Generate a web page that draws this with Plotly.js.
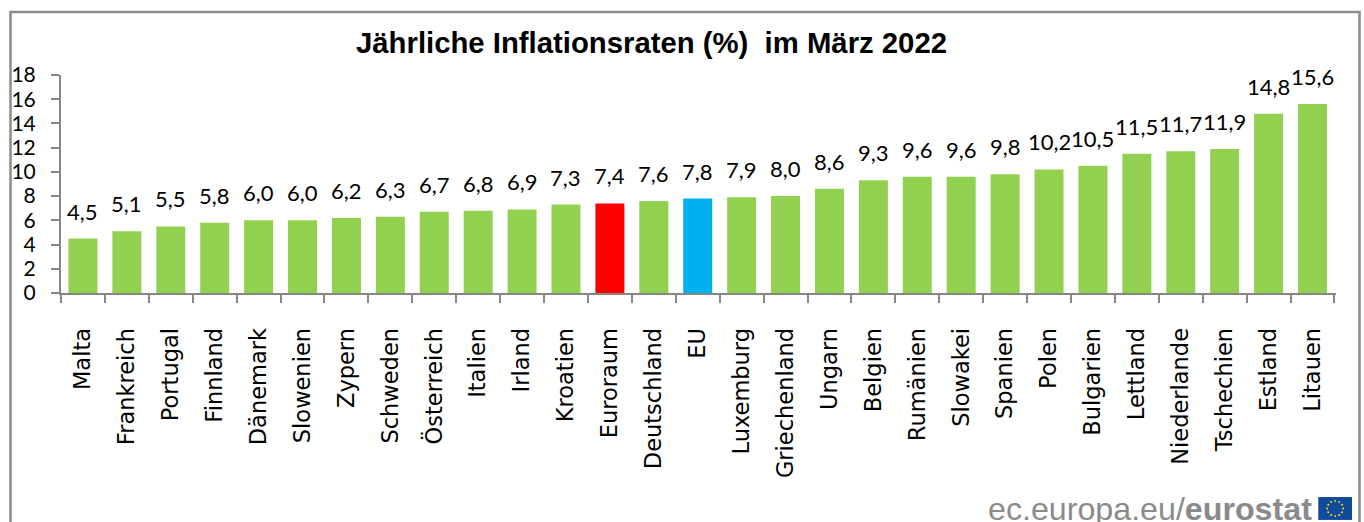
<!DOCTYPE html>
<html><head><meta charset="utf-8">
<script src="https://cdn.plot.ly/plotly-3.0.1.min.js"></script>
<style>html,body{margin:0;padding:0;background:#fff;overflow:hidden}</style>
</head><body><div id="chart" style="width:1364px;height:522px"></div>
<script>
const categories = ["Malta","Frankreich","Portugal","Finnland","Dänemark","Slowenien","Zypern","Schweden","Österreich","Italien","Irland","Kroatien","Euroraum","Deutschland","EU","Luxemburg","Griechenland","Ungarn","Belgien","Rumänien","Slowakei","Spanien","Polen","Bulgarien","Lettland","Niederlande","Tschechien","Estland","Litauen"];
const values = [4.5,5.1,5.5,5.8,6.0,6.0,6.2,6.3,6.7,6.8,6.9,7.3,7.4,7.6,7.8,7.9,8.0,8.6,9.3,9.6,9.6,9.8,10.2,10.5,11.5,11.7,11.9,14.8,15.6];
const yTicks = [0,2,4,6,8,10,12,14,16,18];
const GREEN="#92d050", RED="#ff0000", BLUE="#00b0f0", GREY="#868686";
const barColors = categories.map(c => c==="Euroraum"?RED : c==="EU"?BLUE : GREEN);
const labelFont = "Lato, Carlito, 'Open Sans', sans-serif";
const axisFont = "'DejaVu Sans', 'Open Sans', sans-serif";
const flag = "data:image/svg+xml;utf8," + encodeURIComponent(
 '<svg xmlns="http://www.w3.org/2000/svg" width="34" height="24" viewBox="0 0 34 24"><rect width="34" height="24" fill="#0f4a9c"/>' +
 Array.from({length:12},(_,i)=>{const a=i*Math.PI/6;return '<circle cx="'+(17+8*Math.cos(a)).toFixed(1)+'" cy="'+(12+8*Math.sin(a)).toFixed(1)+'" r="1" fill="#ffe000"/>';}).join('') + '</svg>');
const annotations = categories.map((c,i)=>({
  x:c, y:values[i], xref:"x", yref:"y", text:values[i].toFixed(1).replace(".",","),
  showarrow:false, yanchor:"bottom", yshift:12, font:{family:labelFont,size:22,color:"#000"}
}));
annotations.push({xref:"paper",yref:"paper",x:0.4635,y:1.15,xanchor:"center",yanchor:"middle",showarrow:false,
  text:"<b>Jährliche Inflationsraten (%)  im März 2022</b>",font:{family:"'Liberation Sans',Arial,sans-serif",size:29.3,color:"#000"}});
annotations.push({xref:"paper",yref:"paper",x:1.0,y:-0.99,xanchor:"right",yanchor:"middle",xshift:-22,showarrow:false,
  text:'ec.europa.eu/<b>eurostat</b>',font:{family:"'Liberation Sans',Arial,sans-serif",size:32.2,color:"#8a8a8a"}});
Plotly.newPlot("chart",[{
  type:"bar",x:categories,y:values,marker:{color:barColors,line:{width:0}},hoverinfo:"x+y"
}],{
  width:1364,height:522,margin:{l:60.5,r:27.5,t:75,b:228.5,pad:0},paper_bgcolor:"#fff",plot_bgcolor:"#fff",
  showlegend:false,bargap:0.34,annotations,
  xaxis:{type:"category",tickson:"boundaries",ticks:"outside",ticklen:8,tickwidth:2,tickcolor:GREY,showline:true,linecolor:GREY,linewidth:2,
    showgrid:false,tickangle:-90,tickfont:{family:axisFont,size:22.5,color:"#000"},ticklabelstandoff:24,automargin:false},
  yaxis:{range:[0,18],tickvals:yTicks,ticktext:yTicks.map(String),ticks:"outside",ticklen:8,tickwidth:2,tickcolor:GREY,showline:true,linecolor:GREY,linewidth:2,
    showgrid:false,zeroline:false,tickfont:{family:labelFont,size:21,color:"#000"},ticklabelstandoff:11,automargin:false},
  shapes:[{type:"rect",xref:"paper",yref:"paper",xsizemode:"pixel",ysizemode:"pixel",xanchor:0,yanchor:0,x0:-50.5,x1:1298.5,y0:-260,y1:281,line:{color:"#8c8c8c",width:2.5},fillcolor:"rgba(0,0,0,0)"}],
  images:[{source:flag,xref:"paper",yref:"paper",x:0.986,y:-0.936,sizex:0.0267,sizey:0.105,xanchor:"left",yanchor:"top",sizing:"stretch",layer:"above"}]
},{displayModeBar:false,staticPlot:true});
</script></body></html>
